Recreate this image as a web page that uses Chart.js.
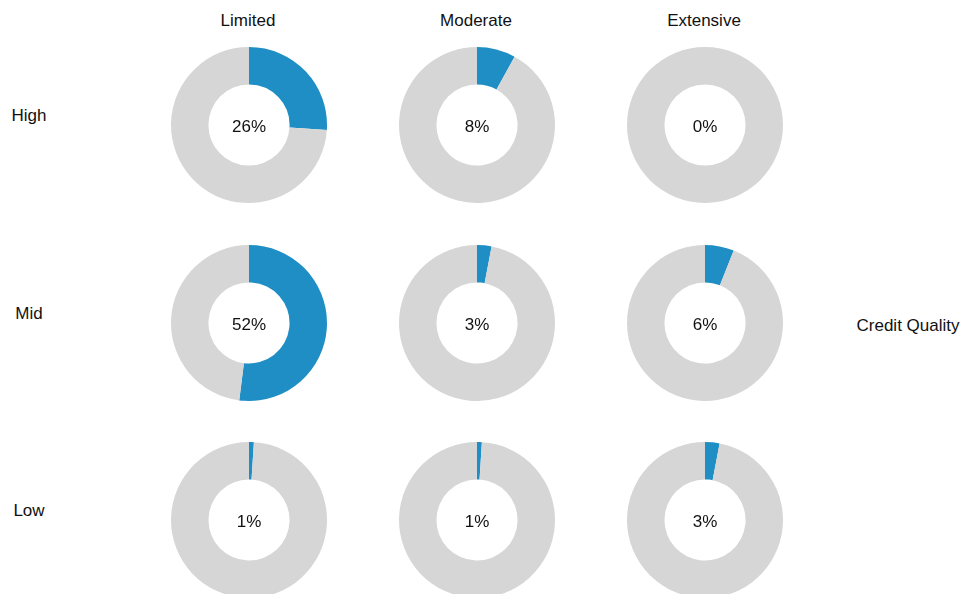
<!DOCTYPE html>
<html>
<head>
<meta charset="utf-8">
<script src="https://cdn.jsdelivr.net/npm/chart.js@4/dist/chart.umd.min.js"></script>
<style>
    body {
        margin: 0;
        background: #fff;
        font-family: "Liberation Sans", Arial, sans-serif;
        color: #111;
    }
    #grid {
        position: relative;
        width: 964px;
        height: 594px;
        overflow: hidden;
    }
    .label {
        position: absolute;
        font-size: 17px;
        white-space: nowrap;
        transform: translate(-50%, -50%);
    }
    .cell {
        position: absolute;
        width: 156px;
        height: 156px;
    }
</style>
</head>
<body>
<div id="grid"></div>
<script>
// Колонки та рядки сітки
const scopeLabels = ['Limited', 'Moderate', 'Extensive'];
const qualityLabels = ['High', 'Mid', 'Low'];
const axisTitle = 'Credit Quality';

// Частка (%) для кожного рядка, по колонках
const highShares = [26, 8, 0];
const midShares = [52, 3, 6];
const lowShares = [1, 1, 3];
const shareRows = [highShares, midShares, lowShares];

const fillColor = '#1e8ec5';
const restColor = '#d6d6d6';

// Центри кілець на сторінці
const colX = [249, 477, 705];
const rowY = [125, 323, 520];
const ringSize = 156;

const grid = document.getElementById('grid');

function addLabel(text, x, y) {
    const el = document.createElement('div');
    el.className = 'label';
    el.textContent = text;
    el.style.left = x + 'px';
    el.style.top = y + 'px';
    grid.appendChild(el);
}

scopeLabels.forEach((name, c) => addLabel(name, colX[c] - 1, 21));
qualityLabels.forEach((name, r) => addLabel(name, 29, rowY[r] - 9));
addLabel(axisTitle, 908, 326);

// Підпис відсотка в центрі кільця
const centerText = {
    id: 'centerText',
    afterDraw(chart) {
        const { ctx, chartArea } = chart;
        const value = chart.data.datasets[0].data[0];
        ctx.save();
        ctx.font = '17px "Liberation Sans", Arial, sans-serif';
        ctx.fillStyle = '#111';
        ctx.textAlign = 'center';
        ctx.textBaseline = 'middle';
        ctx.fillText(value + '%', (chartArea.left + chartArea.right) / 2, (chartArea.top + chartArea.bottom) / 2 + 2);
        ctx.restore();
    }
};

shareRows.forEach((shares, r) => {
    shares.forEach((value, c) => {
        const cell = document.createElement('div');
        cell.className = 'cell';
        cell.style.left = (colX[c] - ringSize / 2) + 'px';
        cell.style.top = (rowY[r] - ringSize / 2) + 'px';
        const canvas = document.createElement('canvas');
        canvas.width = ringSize;
        canvas.height = ringSize;
        cell.appendChild(canvas);
        grid.appendChild(cell);

        new Chart(canvas.getContext('2d'), {
            type: 'doughnut',
            data: {
                labels: ['share', 'rest'],
                datasets: [{
                    data: [value, 100 - value],
                    backgroundColor: [fillColor, restColor],
                    borderWidth: 0
                }]
            },
            options: {
                responsive: false,
                animation: false,
                cutout: '52%',
                layout: { padding: 0 },
                plugins: {
                    legend: { display: false },
                    tooltip: { enabled: false }
                }
            },
            plugins: [centerText]
        });
    });
});
</script>
</body>
</html>
